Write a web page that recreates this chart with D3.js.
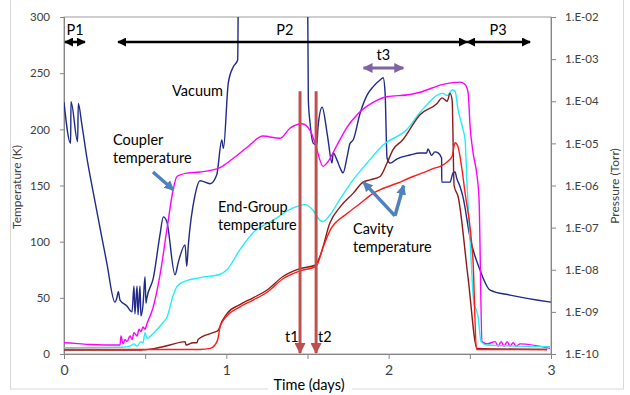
<!DOCTYPE html>
<meta charset="utf-8">
<style>
body { margin: 0; background: #fff; }
text { font-family: Lato, "Open Sans", sans-serif; }
</style>
<svg width="630" height="395"></svg>
<script src="https://d3js.org/d3.v7.min.js"></script>
<script>

// time in days, temperatures in K, pressure in Torr
var vacuum = [
  [0.000, 9.5e-5], [0.041, 1.0e-5], [0.043, 9.8e-5], [0.084, 1.1e-5], [0.088, 8.9e-5],
  [0.109, 3.0e-5], [0.140, 4.8e-6], [0.181, 6.6e-7], [0.222, 9.8e-8], [0.263, 1.5e-8],
  [0.314, 1.7e-9], [0.325, 2.1e-9], [0.335, 3.0e-9], [0.345, 1.9e-9], [0.386, 1.4e-9],
  [0.419, 1.0e-9], [0.431, 4.1e-9], [0.437, 9.0e-10], [0.450, 4.1e-9], [0.456, 8.5e-10],
  [0.468, 4.1e-9], [0.474, 8.0e-10], [0.487, 1.5e-9], [0.499, 6.8e-9], [0.505, 1.6e-9],
  [0.510, 2.1e-9], [0.550, 6.3e-9], [0.591, 6.6e-8], [0.612, 1.8e-7], [0.633, 1.4e-7],
  [0.684, 7.6e-9], [0.704, 1.5e-8], [0.746, 3.9e-8], [0.756, 1.2e-8], [0.766, 3.9e-8],
  [0.807, 5.9e-7], [0.838, 1.3e-6], [0.900, 1.1e-6], [0.941, 1.8e-6], [0.972, 1.2e-5],
  [0.982, 7.6e-6], [1.012, 2.7e-4], [1.043, 6.6e-4], [1.070, 9.5e-4], [1.075, 1e-1],
  [1.500, 1e-1], [1.505, 1.1e-4], [1.516, 3.0e-5], [1.536, 1.0e-5], [1.557, 9.1e-6],
  [1.565, 2.5e-5], [1.590, 7.2e-5], [1.620, 1.8e-5], [1.627, 1.2e-5], [1.651, 3.4e-6],
  [1.658, 5.9e-6], [1.682, 4.0e-6], [1.701, 2.6e-6], [1.719, 2.0e-6], [1.744, 4.8e-6],
  [1.762, 1.0e-5], [1.781, 1.2e-5], [1.824, 5.2e-5], [1.867, 1.4e-4], [1.904, 2.2e-4],
  [1.947, 3.2e-4], [1.966, 3.6e-4], [1.978, 1.6e-4], [1.990, 4.5e-6], [2.009, 3.4e-6],
  [2.052, 4.3e-6], [2.132, 5.3e-6], [2.193, 5.9e-6], [2.234, 5.9e-6], [2.242, 7.4e-6],
  [2.264, 5.2e-6], [2.285, 6.3e-6], [2.303, 6.0e-6], [2.326, 4.5e-6], [2.327, 1.2e-6],
  [2.378, 1.2e-6], [2.397, 2.0e-6], [2.409, 2.1e-6], [2.419, 1.5e-6], [2.440, 9.3e-7],
  [2.458, 5.3e-7], [2.502, 5.6e-8], [2.563, 9.8e-9], [2.625, 3.3e-9], [2.748, 2.5e-9],
  [3.000, 1.7e-9]
];

var coupler = [
  [0.000, 10], [0.068, 9.5], [0.160, 8.5], [0.333, 8], [0.345, 8], [0.351, 16], [0.364, 9],
  [0.376, 13], [0.388, 11], [0.407, 16], [0.419, 13], [0.431, 19], [0.450, 16], [0.462, 22],
  [0.474, 20], [0.487, 24], [0.499, 22], [0.511, 27], [0.548, 41], [0.591, 70], [0.635, 112],
  [0.672, 146], [0.696, 158], [0.758, 161], [0.838, 162], [0.961, 166], [1.041, 174],
  [1.128, 184], [1.226, 194], [1.331, 192], [1.392, 201], [1.466, 205], [1.516, 199],
  [1.546, 188], [1.596, 167], [1.620, 170], [1.682, 186], [1.744, 202], [1.805, 213],
  [1.904, 224], [1.990, 229], [2.132, 231], [2.193, 233], [2.335, 240], [2.440, 242],
  [2.471, 240], [2.489, 233], [2.502, 202], [2.520, 179], [2.545, 158], [2.557, 137],
  [2.575, 11], [2.606, 9], [2.656, 11], [2.674, 7], [2.693, 11], [2.711, 7], [2.730, 11],
  [2.748, 7], [2.767, 10], [2.785, 7], [2.810, 9], [2.994, 5]
];

var endGroup = [
  [0.000, 5.5], [0.333, 6], [0.357, 6], [0.407, 7], [0.431, 9], [0.450, 7], [0.474, 11],
  [0.487, 10], [0.499, 19], [0.511, 14], [0.561, 20], [0.610, 28], [0.635, 33], [0.672, 52],
  [0.696, 60], [0.733, 64], [0.838, 68], [0.961, 71], [1.004, 75], [1.084, 93], [1.165, 108],
  [1.288, 119], [1.411, 130], [1.485, 133], [1.534, 128], [1.577, 119], [1.596, 118],
  [1.639, 124], [1.701, 138], [1.781, 155], [1.867, 170], [1.966, 186], [2.113, 200],
  [2.193, 215], [2.335, 232], [2.360, 230], [2.391, 235], [2.409, 234], [2.428, 217],
  [2.458, 200], [2.471, 190], [2.483, 150], [2.502, 100], [2.526, 44], [2.538, 40],
  [2.551, 33], [2.569, 11], [2.606, 8], [2.994, 6.5]
];

var cavity1 = [
  [0.000, 3.5], [0.468, 3.5], [0.561, 5], [0.653, 8], [0.746, 11], [0.752, 8], [0.795, 10],
  [0.819, 10], [0.826, 13], [0.918, 19], [0.949, 21], [0.973, 29], [1.004, 36], [1.084, 44],
  [1.165, 50], [1.251, 57], [1.349, 69], [1.454, 76], [1.546, 79], [1.577, 87], [1.639, 117],
  [1.701, 131], [1.781, 143], [1.842, 153], [1.885, 155], [1.947, 158], [1.990, 170],
  [2.027, 182], [2.083, 190], [2.193, 213], [2.298, 223], [2.329, 228], [2.360, 225],
  [2.378, 232], [2.391, 226], [2.403, 150], [2.428, 140], [2.489, 68], [2.545, 5], [2.976, 4]
];

var cavity2 = [
  [0.000, 4], [0.838, 4], [0.900, 5], [0.930, 8], [0.949, 14], [0.961, 24], [0.973, 28],
  [1.004, 34], [1.084, 42], [1.165, 48], [1.251, 55], [1.349, 67], [1.454, 74], [1.553, 78],
  [1.596, 95], [1.639, 110], [1.744, 125], [1.824, 134], [1.904, 143], [2.052, 152],
  [2.150, 158], [2.255, 164], [2.360, 171], [2.391, 176], [2.409, 188], [2.428, 184],
  [2.452, 164], [2.471, 143], [2.502, 112], [2.520, 82], [2.541, 4], [2.976, 4]
];

var xTicks = [0, 0.5, 1, 1.5, 2, 2.5, 3];
var xTickLabels = ["0", "", "1", "", "2", "", "3"];
var tempTicks = [0, 50, 100, 150, 200, 250, 300];
var pressureTicks = [1e-10, 1e-9, 1e-8, 1e-7, 1e-6, 1e-5, 1e-4, 1e-3, 1e-2];

var periods = [
  {name: "P1", from: 0.006, to: 0.129, label: 0.068},
  {name: "P2", from: 0.333, to: 2.483, label: 1.36},
  {name: "P3", from: 2.483, to: 2.871, label: 2.674}
];
var tMarks = [{name: "t1", day: 1.454}, {name: "t2", day: 1.553}];
var t3 = {from: 1.845, to: 2.09};

var svg = d3.select("svg");

var x = d3.scaleLinear().domain([0, 3]).range([64, 551]);
var yT = d3.scaleLinear().domain([0, 300]).range([354, 17]);
var yP = d3.scaleLog().domain([1e-10, 1e-2]).range([354, 17]);

var axisColor = "#868686", labelColor = "#404040", noteSize = "14.5px";

// outer frame of the chart
svg.append("rect")
    .attr("x", 10.5).attr("y", -10).attr("width", 613).attr("height", 399)
    .attr("fill", "none").attr("stroke", "#d9d9d9");

var defs = svg.append("defs");
defs.append("clipPath").attr("id", "plot")
  .append("rect").attr("x", 64).attr("y", 17).attr("width", 487).attr("height", 337);

function marker(id, color, w, h) {
  defs.append("marker")
      .attr("id", id)
      .attr("markerUnits", "userSpaceOnUse")
      .attr("viewBox", "0 0 10 10")
      .attr("refX", 9).attr("refY", 5)
      .attr("markerWidth", w).attr("markerHeight", h)
      .attr("orient", "auto-start-reverse")
    .append("path")
      .attr("d", "M0,0L10,5L0,10z")
      .attr("fill", color);
}
marker("headBlack", "#000", 9, 9);
marker("headRed", "#c0504d", 11, 11);
marker("headBlue", "#4f81bd", 10, 11);
marker("headPurple", "#8064a2", 10, 10);

// plot frame
svg.append("rect")
    .attr("x", 64).attr("y", 17).attr("width", 487).attr("height", 337)
    .attr("fill", "none").attr("stroke", axisColor).attr("stroke-width", 0.8);

// axes
var gx = svg.append("g").attr("transform", "translate(0,354)")
    .call(d3.axisBottom(x).tickValues(xTicks).tickSize(5)
      .tickFormat(function(d, i) { return xTickLabels[i]; }));
var gl = svg.append("g").attr("transform", "translate(64,0)")
    .call(d3.axisLeft(yT).tickValues(tempTicks).tickSize(4).tickPadding(10));
var gr = svg.append("g").attr("transform", "translate(551,0)")
    .call(d3.axisRight(yP).tickValues(pressureTicks).tickSize(5).tickPadding(9)
      .tickFormat(function(d) {
        var e = Math.round(Math.log10(d));
        return "1.E-" + (e > -10 ? "0" : "") + Math.abs(e);
      }));
[gx, gl, gr].forEach(function(g) {
  g.select(".domain").attr("stroke", axisColor);
  g.selectAll(".tick line").attr("stroke", axisColor);
  g.selectAll("text").attr("fill", labelColor)
    .style("font-family", "Lato, sans-serif").style("font-size", "11.5px");
});
gx.selectAll("text").style("font-size", "14px").attr("dy", "0.9em");

// axis titles
svg.append("text")
    .attr("transform", "translate(21,187) rotate(-90)")
    .attr("text-anchor", "middle").attr("fill", labelColor)
    .style("font-size", "12px").text("Temperature (K)");
svg.append("text")
    .attr("transform", "translate(619,186) rotate(-90)")
    .attr("text-anchor", "middle").attr("fill", labelColor)
    .style("font-size", "12px").text("Pressure (Torr)");
svg.append("rect").attr("x", 268).attr("y", 379).attr("width", 84).attr("height", 16).attr("fill", "#fff");
svg.append("text")
    .attr("x", 309).attr("y", 390).attr("text-anchor", "middle").attr("fill", "#000")
    .style("font-size", noteSize).text("Time (days)");

// series
var plot = svg.append("g").attr("clip-path", "url(#plot)");
var curve = d3.curveMonotoneX;
var lineT = d3.line().curve(curve).x(function(d) { return x(d[0]); }).y(function(d) { return yT(d[1]); });
var lineP = d3.line().curve(curve).x(function(d) { return x(d[0]); }).y(function(d) { return yP(d[1]); });

plot.append("path").datum(vacuum).attr("d", lineP)
    .attr("fill", "none").attr("stroke", "#1f2a8a").attr("stroke-width", 1.4);
plot.append("path").datum(coupler).attr("d", lineT)
    .attr("fill", "none").attr("stroke", "#ff00ff").attr("stroke-width", 1.4);
plot.append("path").datum(endGroup).attr("d", lineT)
    .attr("fill", "none").attr("stroke", "#22eef5").attr("stroke-width", 1.4);
plot.append("path").datum(cavity1).attr("d", lineT)
    .attr("fill", "none").attr("stroke", "#8b1a1a").attr("stroke-width", 1.4);
plot.append("path").datum(cavity2).attr("d", lineT)
    .attr("fill", "none").attr("stroke", "#ff1a1a").attr("stroke-width", 1.4);

// period arrows
var pY = 42;
svg.selectAll(".period").data(periods).enter().append("line")
    .attr("x1", function(d) { return x(d.from); }).attr("x2", function(d) { return x(d.to); })
    .attr("y1", pY).attr("y2", pY)
    .attr("stroke", "#000").attr("stroke-width", 2.6)
    .attr("marker-start", "url(#headBlack)").attr("marker-end", "url(#headBlack)");
svg.selectAll(".plabel").data(periods).enter().append("text")
    .attr("x", function(d) { return x(d.label); }).attr("y", 35)
    .attr("text-anchor", "middle").style("font-size", noteSize).text(function(d) { return d.name; });

// t3
svg.append("line")
    .attr("x1", x(t3.from)).attr("x2", x(t3.to)).attr("y1", 68).attr("y2", 68)
    .attr("stroke", "#8064a2").attr("stroke-width", 3)
    .attr("marker-start", "url(#headPurple)").attr("marker-end", "url(#headPurple)");
svg.append("text").attr("x", x((t3.from + t3.to) / 2)).attr("y", 60)
    .attr("text-anchor", "middle").style("font-size", noteSize).text("t3");

// t1, t2 arrows
svg.selectAll(".tmark").data(tMarks).enter().append("line")
    .attr("x1", function(d) { return x(d.day); }).attr("x2", function(d) { return x(d.day); })
    .attr("y1", yT(234)).attr("y2", yT(0) - 1)
    .attr("stroke", "#c0504d").attr("stroke-width", 3)
    .attr("marker-end", "url(#headRed)");
svg.selectAll(".tlabel").data(tMarks).enter().append("text")
    .attr("x", function(d, i) { return x(d.day) + (i ? 2 : -15); }).attr("y", 342)
    .attr("text-anchor", "start").style("font-size", noteSize).text(function(d) { return d.name; });

// blue pointer arrows [day, K] -> [day, K]
var pointers = [
  [[0.548, 162], [0.675, 146]],
  [[2.039, 123], [1.845, 153]],
  [[2.039, 123], [2.092, 150]]
];
svg.selectAll(".pointer").data(pointers).enter().append("line")
    .attr("x1", function(d) { return x(d[0][0]); }).attr("y1", function(d) { return yT(d[0][1]); })
    .attr("x2", function(d) { return x(d[1][0]); }).attr("y2", function(d) { return yT(d[1][1]); })
    .attr("stroke", "#4f81bd").attr("stroke-width", 3.5)
    .attr("marker-end", "url(#headBlue)");

// text notes
var notes = [
  {x: 172, y: 96, lines: ["Vacuum"]},
  {x: 113, y: 145, lines: ["Coupler", "temperature"]},
  {x: 218, y: 212, lines: ["End-Group", "temperature"]},
  {x: 353, y: 234, lines: ["Cavity", "temperature"]}
];
notes.forEach(function(n) {
  var t = svg.append("text").attr("x", n.x).attr("y", n.y).style("font-size", noteSize);
  n.lines.forEach(function(s, i) {
    t.append("tspan").attr("x", n.x).attr("dy", i ? 18 : 0).text(s);
  });
});

</script>
